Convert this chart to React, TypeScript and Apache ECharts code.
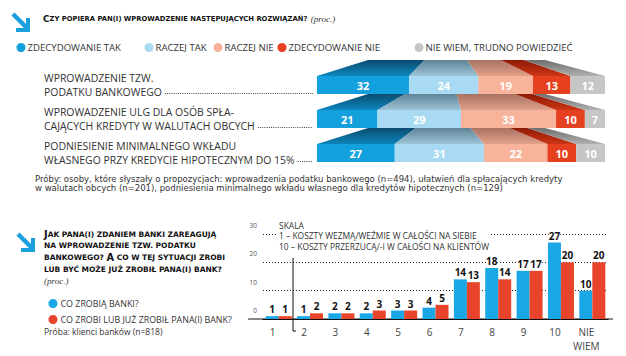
import React, { useEffect, useRef } from 'react';
import * as echarts from 'echarts';

// ---------- DATA: top chart ----------
const answerNames = ['ZDECYDOWANIE TAK', 'RACZEJ TAK', 'RACZEJ NIE', 'ZDECYDOWANIE NIE', 'NIE WIEM, TRUDNO POWIEDZIEĆ'];
const rowLabelsLine1 = ['WPROWADZENIE TZW.', 'WPROWADZENIE ULG DLA OSÓB SPŁA-', 'PODNIESIENIE MINIMALNEGO WKŁADU'];
const rowLabelsLine2 = ['PODATKU BANKOWEGO', 'CAJĄCYCH KREDYTY W WALUTACH OBCYCH', 'WŁASNEGO PRZY KREDYCIE HIPOTECZNYM DO 15%'];
const zdecydowanieTak = [32, 21, 27];
const raczejTak = [24, 29, 31];
const raczejNie = [19, 33, 22];
const zdecydowanieNie = [13, 10, 10];
const nieWiem = [12, 7, 10];

// ---------- DATA: bottom chart ----------
const scaleCategories = ['1', '2', '3', '4', '5', '6', '7', '8', '9', '10', 'NIE\nWIEM'];
const bottomSeriesNames = ['CO ZROBIĄ BANKI?', 'CO ZROBI LUB JUŻ ZROBIŁ PANA(I) BANK?'];
const coZrobiaBanki = [1, 1, 2, 2, 3, 4, 14, 18, 17, 27, 10];
const coZrobilBank = [1, 2, 2, 3, 3, 5, 13, 14, 17, 20, 20];

const NOTE1 = 'Próby: osoby, które słyszały o propozycjach: wprowadzenia podatku bankowego (n=494), ułatwień dla spłacających kredyty';
const NOTE2 = 'w walutach obcych (n=201), podniesienia minimalnego wkładu własnego dla kredytów hipotecznych (n=129)';
const SCALE_LINES = ['SKALA', '1 – KOSZTY WEZMĄ/WEŹMIE W CAŁOŚCI NA SIEBIE', '10 – KOSZTY PRZERZUCĄ/-I W CAŁOŚCI NA KLIENTÓW'];

const FONT = '"Open Sans", "Noto Sans", sans-serif';
const OPEN = '"Open Sans"';
const DEJA = '"DejaVu Sans"';
const TITLE_FONT = '"DejaVu Sans", sans-serif';
const frontColors = ['#14a0dc', '#a8dbf3', '#f8b39b', '#e5401f', '#c6c6c6'];
const topColors = [
  ['#0a4c70', '#0d86bb'],
  ['#5f8397', '#9cc3d6'],
  ['#a87262', '#e2a18a'],
  ['#8e1a06', '#cc3514'],
  ['#6e6e6e', '#b0b0b0'],
];
const legendDotCenters = [16, 144, 213, 277, 414];
const arrowColor = '#1aa0dc';

function arrow(x: number, y: number) {
  return {
    type: 'group',
    x,
    y,
    children: [
      { type: 'line', shape: { x1: 1, y1: 1, x2: 15, y2: 15 }, style: { stroke: arrowColor, lineWidth: 4.5 } },
      {
        type: 'polygon',
        shape: { points: [[18, 5], [18, 19], [4, 19], [4, 15], [14, 15], [14, 5]] },
        style: { fill: arrowColor },
      },
    ],
  };
}

export default function App() {
  const ref = useRef<HTMLDivElement>(null);
  useEffect(() => {
    if (!ref.current) return;
    const ctx = document.createElement('canvas').getContext('2d') as CanvasRenderingContext2D;
    const measure = (text: string, weight: string, family: string, size: number) => {
      ctx.font = `${weight} ${size}px ${family}`;
      return ctx.measureText(text).width;
    };
    const fit = (text: string, weight: string, family: string, target: number) =>
      (100 * target) / measure(text, weight, family, 100);

    const rowFs = fit(rowLabelsLine2[1], 'normal', OPEN, 211);
    const noteFs = fit(NOTE1, 'normal', DEJA, 528);
    const legendFs = 9.6;
    const legend2Fs = 8.9;
    const probaFs = 8.5;
    const scaleFs = fit(SCALE_LINES[2], 'normal', OPEN, 210);
    const t1S = 6.8;
    const t2S = 7.5;

    const chart = echarts.init(ref.current, null, { renderer: 'svg' });
    const stacks = [zdecydowanieTak, raczejTak, raczejNie, zdecydowanieNie, nieWiem];

    const topSeries = stacks.map((vals, si) => ({
      type: 'custom',
      name: answerNames[si],
      coordinateSystem: 'cartesian2d',
      xAxisIndex: 0,
      yAxisIndex: 0,
      itemStyle: { color: frontColors[si] },
      encode: { x: [0, 1], y: 2 },
      data: vals.map((v, ri) => {
        let start = 0;
        for (let k = 0; k < si; k++) start += stacks[k][ri];
        return [start, start + v, ri, v];
      }),
      renderItem: (params: any, api: any) => {
        const s = api.value(0);
        const e = api.value(1);
        const row = api.value(2);
        const v = api.value(3);
        const p0 = api.coord([s, row]);
        const p1 = api.coord([e, row]);
        const xmin = api.coord([0, row])[0];
        const xmax = api.coord([100, row])[0];
        const frontH = 18;
        const topH = 16;
        const yTop = p0[1] - frontH / 2;
        const tl = xmin + 51;
        const tr = xmax - 60;
        const mapTop = (x: number) => tl + ((x - xmin) * (tr - tl)) / (xmax - xmin);
        return {
          type: 'group',
          children: [
            {
              type: 'polygon',
              shape: {
                points: [
                  [p0[0], yTop],
                  [p1[0], yTop],
                  [mapTop(p1[0]), yTop - topH],
                  [mapTop(p0[0]), yTop - topH],
                ],
              },
              style: {
                fill: new echarts.graphic.LinearGradient(0, 0, 0, 1, [
                  { offset: 0, color: topColors[si][0] },
                  { offset: 1, color: topColors[si][1] },
                ]),
              },
            },
            {
              type: 'rect',
              shape: { x: p0[0], y: yTop, width: p1[0] - p0[0], height: frontH },
              style: { fill: frontColors[si] },
            },
            {
              type: 'text',
              x: (p0[0] + p1[0]) / 2,
              y: p0[1] + 0.5,
              style: {
                text: String(v),
                fill: '#ffffff',
                font: 'bold 11px ' + FONT,
                align: 'center',
                verticalAlign: 'middle',
              },
            },
          ],
        };
      },
    }));

    const barLabel = {
      show: true,
      position: 'top',
      distance: 2,
      fontSize: 10,
      fontWeight: 'bold',
      color: '#111',
      backgroundColor: '#fff',
      fontFamily: FONT,
    };

    const topLegends = answerNames.map((n, i) => ({
      data: [n],
      left: legendDotCenters[i] - 4.5,
      top: 37.5,
      itemWidth: 9,
      itemHeight: 9,
      icon: 'circle',
      textStyle: { fontSize: legendFs, color: '#333', fontFamily: FONT, padding: [0, 0, 0, -3] },
      selectedMode: false,
    }));

    const baseGraphic: any[] = [
      arrow(12, 13),
      {
        type: 'text',
        left: 43,
        top: 13,
        style: {
          text: '{b|C}{s|ZY POPIERA PAN(I) WPROWADZENIE NASTĘPUJĄCYCH ROZWIĄZAŃ?} {i|(proc.)}',
          rich: {
            b: { fontSize: t1S * 1.3, fontWeight: 'bold', fill: '#111', fontFamily: TITLE_FONT },
            s: { fontSize: t1S, fontWeight: 'bold', fill: '#111', fontFamily: TITLE_FONT },
            i: { fontSize: 9, fontStyle: 'italic', fill: '#333', fontFamily: '"Liberation Serif", serif' },
          },
        },
      },
      {
        type: 'text',
        left: 35,
        top: 174,
        style: {
          text: NOTE1 + '\n' + NOTE2,
          fontSize: noteFs,
          lineHeight: 9.6,
          fill: '#333',
          fontFamily: '"DejaVu Sans", sans-serif',
        },
      },
      arrow(17, 233),
      {
        type: 'text',
        left: 44,
        top: 229.2,
        style: {
          text:
            '{b|J}{s|AK PANA(I) ZDANIEM BANKI ZAREAGUJĄ}\n{s|NA WPROWADZENIE TZW. PODATKU}\n{s|BANKOWEGO? }{b|A}{s| CO W TEJ SYTUACJI ZROBI}\n{s|LUB BYĆ MOŻE JUŻ ZROBIŁ PANA(I) BANK?}\n{i|(proc.)}',
          rich: {
            b: { fontSize: t2S * 1.3, fontWeight: 'bold', fill: '#111', fontFamily: TITLE_FONT, lineHeight: 11.7 },
            s: { fontSize: t2S, fontWeight: 'bold', fill: '#111', fontFamily: TITLE_FONT, lineHeight: 11.7 },
            i: { fontSize: 9, fontStyle: 'italic', fill: '#333', fontFamily: '"Liberation Serif", serif', lineHeight: 11.7 },
          },
        },
      },
      {
        type: 'text',
        left: 44,
        top: 327,
        style: { text: 'Próba: klienci banków (n=818)', fontSize: probaFs, fill: '#333', fontFamily: FONT },
      },
      {
        type: 'text',
        left: 277,
        top: 220,
        z: 10,
        style: {
          text: SCALE_LINES.join('\n'),
          fontSize: scaleFs,
          lineHeight: 10.4,
          fill: '#333',
          fontFamily: FONT,
          backgroundColor: '#fff',
          padding: [0, 2],
        },
      },
      {
        type: 'polyline',
        z: 10,
        shape: { points: [[293, 258], [293, 331], [296, 331]] },
        style: { stroke: '#111', lineWidth: 1, fill: null },
      },
      {
        type: 'line',
        shape: { x1: 248, y1: 319, x2: 613, y2: 319 },
        style: { stroke: '#111', lineWidth: 1.2 },
      },
    ];

    const option: any = {
      animation: false,
      backgroundColor: '#ffffff',
      textStyle: { fontFamily: FONT },
      legend: [
        ...topLegends,
        {
          data: bottomSeriesNames,
          orient: 'vertical',
          left: 43.5,
          top: 294,
          itemWidth: 9,
          itemHeight: 9,
          itemGap: 7,
          icon: 'circle',
          textStyle: { fontSize: legend2Fs, color: '#333', fontFamily: FONT, padding: [0, 0, 0, -2] },
          selectedMode: false,
        },
      ],
      grid: [
        { left: 317, width: 288, top: 68, height: 102, containLabel: false },
        { left: 263, right: 18, top: 234, bottom: 37, containLabel: false },
      ],
      xAxis: [
        { type: 'value', gridIndex: 0, min: 0, max: 100, show: false },
        {
          type: 'category',
          gridIndex: 1,
          data: scaleCategories,
          axisLine: { lineStyle: { color: '#111', width: 1.2 } },
          axisTick: { show: false },
          axisLabel: {
            interval: 0,
            fontSize: 10,
            color: '#444',
            margin: 6,
            lineHeight: 14,
            padding: [0, 12, 0, 0],
            fontFamily: FONT,
          },
        },
      ],
      yAxis: [
        {
          type: 'category',
          gridIndex: 0,
          inverse: true,
          data: [0, 1, 2],
          axisLine: { show: false },
          axisTick: { show: false },
          splitLine: { show: false },
          axisLabel: {
            align: 'left',
            margin: 273,
            fontSize: rowFs,
            lineHeight: 13.5,
            color: '#333',
            padding: [0, 0, 4, 0],
            fontFamily: FONT,
            formatter: (_v: any, i: number) => rowLabelsLine1[i] + '\n' + rowLabelsLine2[i],
          },
        },
        {
          type: 'value',
          gridIndex: 1,
          min: 0,
          max: 30,
          interval: 10,
          axisLine: { show: false },
          axisTick: { show: false },
          axisLabel: {
            fontSize: 6.5,
            color: '#555',
            margin: 6,
            verticalAlign: 'bottom',
            padding: [0, 0, 5, 0],
            fontFamily: FONT,
          },
          splitLine: { lineStyle: { color: '#222', type: [1, 2], width: 1 } },
        },
      ],
      series: [
        ...topSeries,
        {
          type: 'bar',
          name: bottomSeriesNames[0],
          xAxisIndex: 1,
          yAxisIndex: 1,
          data: coZrobiaBanki,
          barWidth: 13,
          barGap: '0%',
          itemStyle: { color: '#1aa7e6' },
          label: barLabel,
        },
        {
          type: 'bar',
          name: bottomSeriesNames[1],
          xAxisIndex: 1,
          yAxisIndex: 1,
          data: coZrobilBank,
          barWidth: 13,
          barGap: '0%',
          itemStyle: { color: '#e8442b' },
          label: barLabel,
        },
      ],
      graphic: baseGraphic,
    };
    chart.setOption(option);

    // dotted leaders after the second line of each row label
    const leaders = rowLabelsLine2.map((t, i) => {
      const yc = chart.convertToPixel({ yAxisIndex: 0 } as any, i) as unknown as number;
      const w = measure(t, 'normal', OPEN, rowFs);
      const y = Math.round(yc + 8) + 0.5;
      return {
        type: 'line',
        shape: { x1: 44 + w + 3, y1: y, x2: 313, y2: y },
        style: { stroke: '#444', lineWidth: 1, lineDash: [1, 1.2] },
      };
    });
    chart.setOption({ graphic: [...baseGraphic, ...leaders] });

    return () => chart.dispose();
  }, []);
  return <div ref={ref} style={{ width: 626, height: 356, position: 'absolute', left: 0, top: 0 }} />;
}
